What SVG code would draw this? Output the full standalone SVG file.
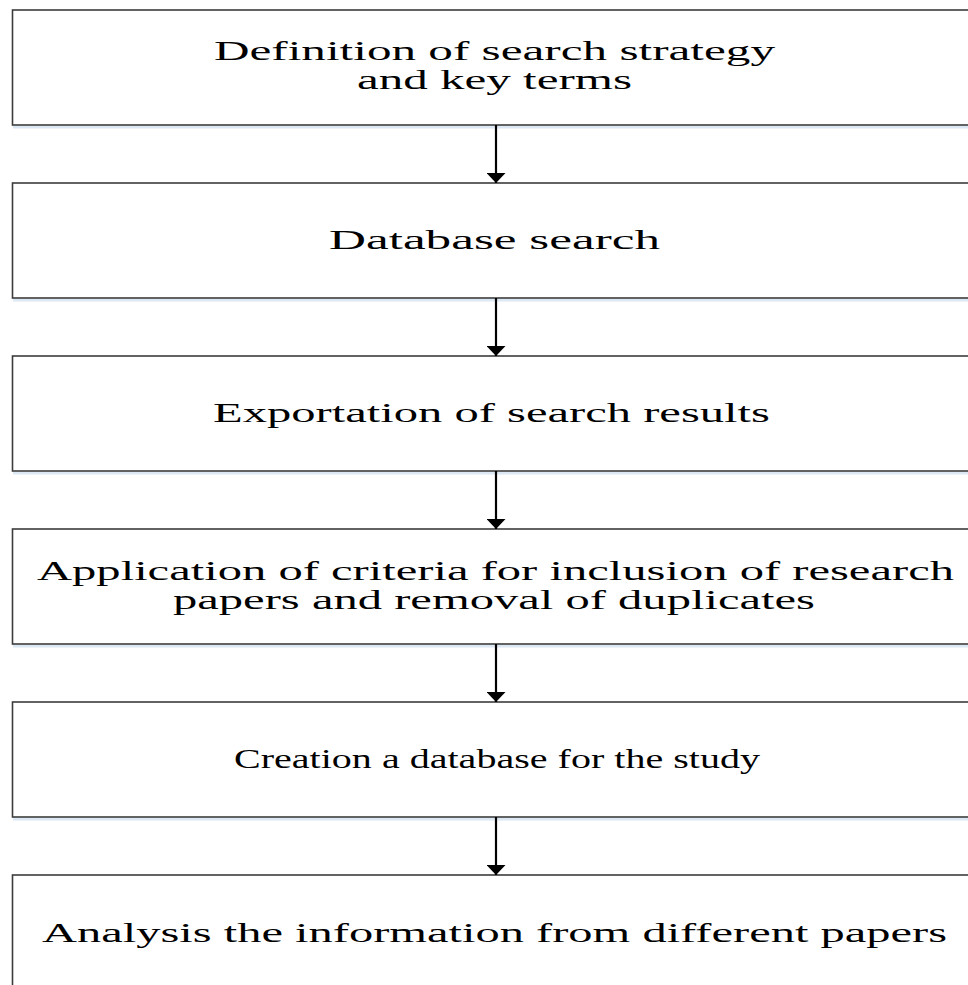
<svg xmlns="http://www.w3.org/2000/svg" width="968" height="985" viewBox="0 0 968 985">
<defs>
<style>
.box{fill:#ffffff;stroke:#3c3c3c;stroke-width:1.6}
.sh{stroke:#dce8f4;stroke-width:3}
.lbl{font-family:"Liberation Serif","Times New Roman",serif;font-size:27.5px;fill:#000}
.conn{stroke:#000;stroke-width:2.2;fill:none}
</style>
<marker id="ah" viewBox="0 0 10 19" markerWidth="10" markerHeight="19" refX="10" refY="9.5" orient="auto" markerUnits="userSpaceOnUse">
<path d="M0,0 L10,9.5 L0,19 Z" fill="#000"/>
</marker>
</defs>
<rect width="968" height="985" fill="#ffffff"/>
<g id="n1">
<line class="sh" x1="13" y1="127" x2="968" y2="127"/>
<rect class="box" x="12.5" y="10" width="966" height="115"/>
<g transform="scale(1.45,1)">
<text class="lbl" x="147.59" y="60" textLength="386.9" lengthAdjust="spacingAndGlyphs">Definition of search strategy</text>
<text class="lbl" x="246.21" y="89" textLength="189.66" lengthAdjust="spacingAndGlyphs">and key terms</text>
</g>
</g>
<g id="n2">
<line class="sh" x1="13" y1="300" x2="968" y2="300"/>
<rect class="box" x="12.5" y="183" width="966" height="115"/>
<text class="lbl" transform="scale(1.45,1)" x="226.9" y="249" textLength="228.28" lengthAdjust="spacingAndGlyphs">Database search</text>
</g>
<g id="n3">
<line class="sh" x1="13" y1="473" x2="968" y2="473"/>
<rect class="box" x="12.5" y="356" width="966" height="115"/>
<text class="lbl" transform="scale(1.45,1)" x="146.9" y="422" textLength="384.14" lengthAdjust="spacingAndGlyphs">Exportation of search results</text>
</g>
<g id="n4">
<line class="sh" x1="13" y1="646" x2="968" y2="646"/>
<rect class="box" x="12.5" y="529" width="966" height="115"/>
<g transform="scale(1.45,1)">
<text class="lbl" x="25.52" y="580" textLength="632.41" lengthAdjust="spacingAndGlyphs">Application of criteria for inclusion of research</text>
<text class="lbl" x="119.31" y="609" textLength="442.76" lengthAdjust="spacingAndGlyphs">papers and removal of duplicates</text>
</g>
</g>
<g id="n5">
<line class="sh" x1="13" y1="819" x2="968" y2="819"/>
<rect class="box" x="12.5" y="702" width="966" height="115"/>
<text class="lbl" transform="scale(1.45,1)" x="161.38" y="768" textLength="362.76" lengthAdjust="spacingAndGlyphs">Creation a database for the study</text>
</g>
<g id="n6">
<rect class="box" x="12.5" y="875" width="966" height="130"/>
<text class="lbl" transform="scale(1.45,1)" x="28.97" y="942" textLength="624.14" lengthAdjust="spacingAndGlyphs">Analysis the information from different papers</text>
</g>
<g id="connectors">
<line class="conn" x1="496" y1="125" x2="496" y2="183" marker-end="url(#ah)"/>
<line class="conn" x1="496" y1="298" x2="496" y2="356" marker-end="url(#ah)"/>
<line class="conn" x1="496" y1="471" x2="496" y2="529" marker-end="url(#ah)"/>
<line class="conn" x1="496" y1="644" x2="496" y2="702" marker-end="url(#ah)"/>
<line class="conn" x1="496" y1="817" x2="496" y2="875" marker-end="url(#ah)"/>
</g>
</svg>
